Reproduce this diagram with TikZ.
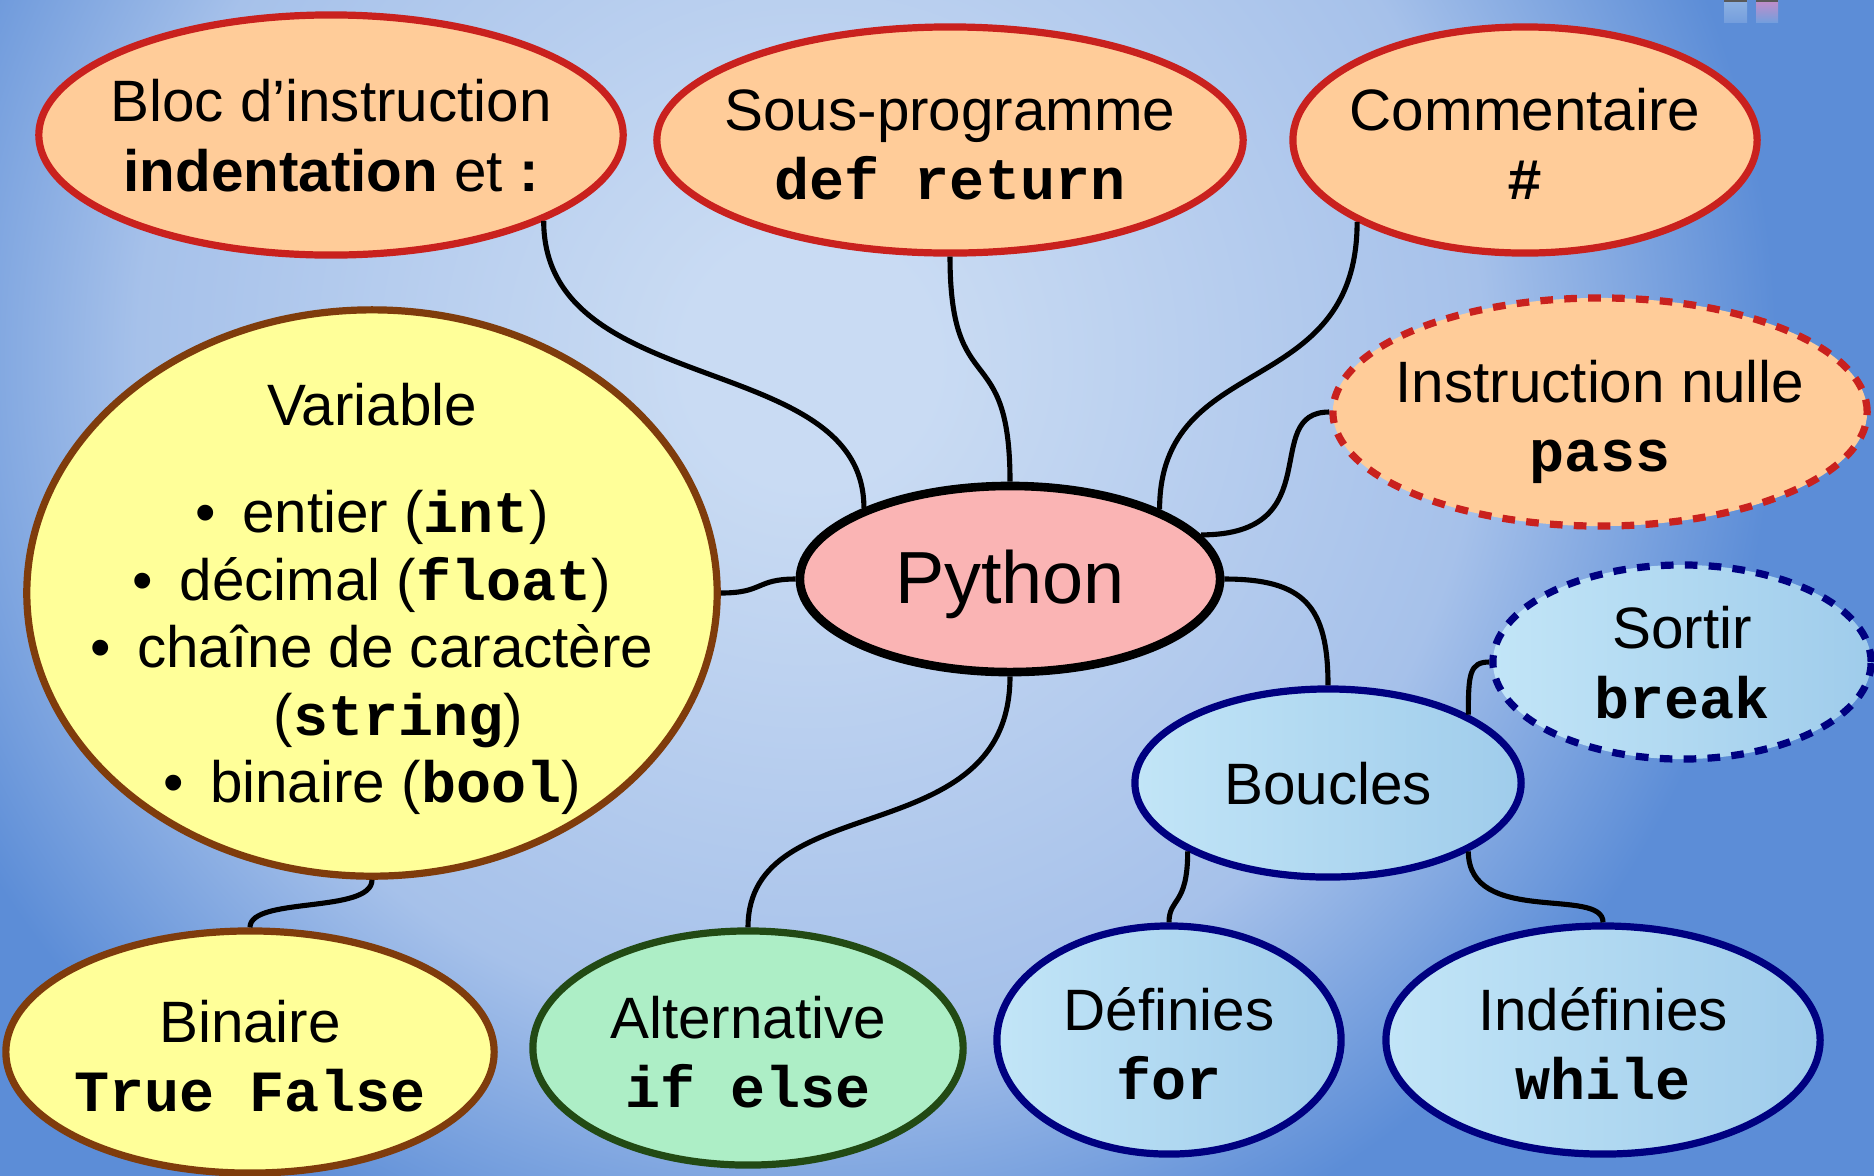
\documentclass[tikz,border=0pt]{standalone}
\usepackage{fontspec}
\setmainfont{Liberation Sans}
\setmonofont{Liberation Mono}
\usetikzlibrary{shapes.geometric}
\definecolor{bgin}{HTML}{C9DBF3}
\definecolor{bgmid}{HTML}{A6C1EA}
\definecolor{bgout}{HTML}{5C8DD7}
\definecolor{redb}{HTML}{C9211E}
\definecolor{peachf}{HTML}{FFCC99}
\definecolor{brownb}{HTML}{7F3C0C}
\definecolor{yelf}{HTML}{FFFF99}
\definecolor{pyf}{HTML}{FAB4B4}
\definecolor{navyb}{HTML}{000080}
\definecolor{bluL}{HTML}{C2E5F7}
\definecolor{bluR}{HTML}{9FCCEB}
\definecolor{greenb}{HTML}{224A14}
\definecolor{greenf}{HTML}{ADEEC6}
\definecolor{barblue}{HTML}{8EB2E2}
\definecolor{barpink}{HTML}{C48DC8}
\pgfdeclareradialshading{bgshade}{\pgfpoint{0bp}{0bp}}{color(0bp)=(bgin); color(1.5bp)=(bgin); color(8bp)=(bgmid); color(11.5bp)=(bgout); color(50bp)=(bgout)}
\newcommand{\codeb}[1]{\texttt{\bfseries #1}}
\tikzset{
  bub/.style={ellipse, draw, line width=2.05pt, inner sep=-1.5cm, align=center,
    text height=34pt, text depth=0pt,
    font=\fontsize{16.6}{19.8}\selectfont},
  peach/.style={bub, draw=redb, fill=peachf},
  yel/.style={bub, draw=brownb, fill=yelf},
  grn/.style={bub, draw=greenb, fill=greenf},
  blu/.style={bub, draw=navyb, left color=bluL, right color=bluR},
  py/.style={bub, draw=black, line width=2.45pt, fill=pyf, text height=14.2pt,
    font=\fontsize{21}{25}\selectfont},
  dsh/.style={dash pattern=on 3.6pt off 3.2pt},
  conn/.style={line width=1.45pt, draw=black},
}
\begin{document}
\begin{tikzpicture}[x=0.01cm, y=-0.01cm]
\useasboundingbox (0,0) rectangle (1874,1175);
\fill[bgout] (0,0) rectangle (1874,1175);
\begin{scope}
  \clip (0,0) rectangle (1874,1175);
  \shade[shading=bgshade] (810,360) circle (21cm);
\end{scope}
% small cut-off bars at top right
\shade[top color=barblue, bottom color=bgout!85!white] (1724,0) rectangle (1747,22);
\shade[top color=barpink, bottom color=bgout!85!white] (1756,0) rectangle (1778,22);
\fill[gray!70!black] (1724,0) rectangle (1747,2);
\fill[gray!70!black] (1756,0) rectangle (1778,2);

% nodes
\node[peach, text height=32pt, minimum width=5.84cm, minimum height=2.40cm] (bloc) at (331,135)
  {Bloc d’instruction\\\textbf{indentation} et \textbf{:}};
\node[peach, minimum width=5.86cm, minimum height=2.26cm] (sous) at (950,140)
  {Sous-programme\\\codeb{def return}};
\node[peach, minimum width=4.64cm, minimum height=2.26cm] (comm) at (1525,140)
  {Commentaire\\\codeb{\#}};
\node[peach, dsh, text depth=-6pt, minimum width=5.34cm, minimum height=2.28cm] (nulle) at (1600,412)
  {Instruction nulle\\\codeb{pass}};
\node[yel, text height=119.3pt, font=\fontsize{16.6}{19.2}\selectfont,
      minimum width=6.90cm, minimum height=5.66cm] (var) at (372,593)
  {Variable\\[11.3pt]
   •\hspace{0.45em}entier (\codeb{int})\\
   •\hspace{0.45em}décimal (\codeb{float})\\
   •\hspace{0.45em}chaîne de caractère\\
   \hspace*{0.9em}(\codeb{string})\\
   •\hspace{0.45em}binaire (\codeb{bool})};
\node[py, minimum width=4.20cm, minimum height=1.86cm] (python) at (1010,579) {Python};
\node[blu, dsh, text height=32pt, minimum width=3.78cm, minimum height=1.94cm] (sortir) at (1682,662)
  {Sortir\\\codeb{break}};
\node[blu, text height=12pt, minimum width=3.86cm, minimum height=1.88cm] (boucles) at (1328,783) {Boucles};
\node[yel, minimum width=4.88cm, minimum height=2.42cm] (binaire) at (250,1052)
  {Binaire\\\codeb{True False}};
\node[grn, minimum width=4.30cm, minimum height=2.34cm] (alt) at (748,1048)
  {Alternative\\\codeb{if else}};
\node[blu, minimum width=3.44cm, minimum height=2.28cm] (defi) at (1169,1040)
  {Définies\\\codeb{for}};
\node[blu, minimum width=4.34cm, minimum height=2.28cm] (indef) at (1603,1040)
  {Indéfinies\\\codeb{while}};

% connectors
\draw[conn] (bloc.-22.6) .. controls +(0,179) and +(0,-158) .. (python.154.8);
\draw[conn] (sous.south) .. controls +(0,147) and +(0,-146) .. (python.north);
\draw[conn] (comm.-154) .. controls +(0,180) and +(0,-160) .. (python.25.2);
\draw[conn] (nulle.west) .. controls +(-70,0) and +(130,0) .. (python.13);
\draw[conn] (var.east) .. controls +(43,0) and +(-40,0) .. (python.west);
\draw[conn] (python.east) .. controls +(80,0) and +(0,-79) .. (boucles.north);
\draw[conn] (python.south) .. controls +(0,178) and +(0,-141) .. (alt.north);
\draw[conn] (var.south) .. controls +(0,34) and +(0,-31) .. (binaire.north);
\draw[conn] (boucles.26.6) .. controls +(0,-40) and +(-20,0) .. (sortir.west);
\draw[conn] (boucles.-154) .. controls +(0,55) and +(0,-25) .. (defi.north);
\draw[conn] (boucles.-26.6) .. controls +(0,75) and +(0,-36) .. (indef.north);
\end{tikzpicture}
\end{document}
